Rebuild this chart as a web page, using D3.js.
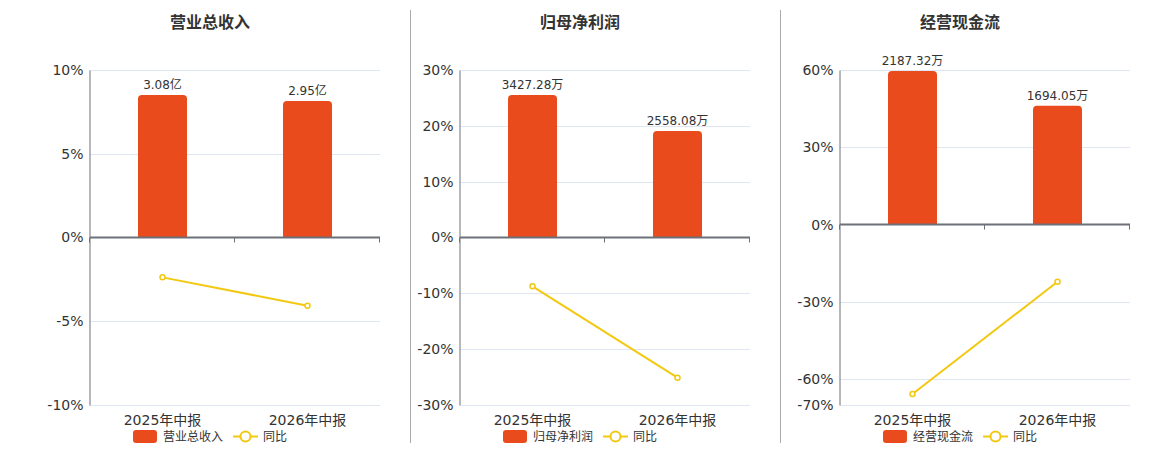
<!DOCTYPE html>
<html>
<head>
<meta charset="utf-8">
<script src="https://cdn.jsdelivr.net/npm/d3@7/dist/d3.min.js"></script>
<style>
html,body{margin:0;padding:0;background:#fff;}
svg{display:block;font-family:"DejaVu Sans","Noto Sans CJK SC",sans-serif;}
</style>
</head>
<body>
<svg id="chart" width="1160" height="450"></svg>
<script>
// ---- data ----
const categories = ["2025年中报", "2026年中报"];
const titles = ["营业总收入", "归母净利润", "经营现金流"];
const barNames = ["营业总收入", "归母净利润", "经营现金流"];
const lineName = "同比";
const units = ["亿", "万", "万"];
const barValues1 = [3.08, 2.95];
const barValues2 = [3427.28, 2558.08];
const barValues3 = [2187.32, 1694.05];
const yoy1 = [-2.38, -4.07];
const yoy2 = [-8.75, -25.1];
const yoy3 = [-65.7, -22.2];
const ticks1 = [-10, -5, 0, 5, 10];
const ticks2 = [-30, -20, -10, 0, 10, 20, 30];
const ticks3 = [-70, -60, -30, 0, 30, 60];
// hidden secondary (bar) axis maxima
const barAxisMax = [3.62, 4027, 2203];

const panels = [
  {title: titles[0], name: barNames[0], unit: units[0], bars: barValues1, yoy: yoy1, ticks: ticks1, barMax: barAxisMax[0]},
  {title: titles[1], name: barNames[1], unit: units[1], bars: barValues2, yoy: yoy2, ticks: ticks2, barMax: barAxisMax[1]},
  {title: titles[2], name: barNames[2], unit: units[2], bars: barValues3, yoy: yoy3, ticks: ticks3, barMax: barAxisMax[2]}
];

// ---- layout ----
const plotLeft = [90, 460, 840];
const plotWidth = 290;
const plotTop = 70, plotBottom = 405;
const centers = [210, 580, 960];
const separators = [410.5, 780.5];
const barColor = "#e94b1c";
const lineColor = "#f2c811";
const axisColor = "#6e7079";
const gridColor = "#e0e6f1";
const textColor = "#333";

const svg = d3.select("#chart");

separators.forEach(x => {
  svg.append("line").attr("x1", x).attr("x2", x).attr("y1", 10).attr("y2", 443)
    .attr("stroke", "#aaa").attr("stroke-width", 1);
});

panels.forEach((p, i) => {
  const g = svg.append("g");
  const x0 = plotLeft[i];
  const x = d3.scaleBand().domain(categories).range([x0, x0 + plotWidth]);
  const yMin = d3.min(p.ticks), yMax = d3.max(p.ticks);
  const y = d3.scaleLinear().domain([yMin, yMax]).range([plotBottom, plotTop]);
  const zeroY = y(0);
  const yBar = d3.scaleLinear().domain([0, p.barMax]).range([zeroY, y(yMax)]);

  // title
  g.append("text").attr("x", centers[i]).attr("y", 28).attr("text-anchor", "middle")
    .attr("font-size", 16).attr("font-weight", "bold").attr("fill", textColor).text(p.title);

  // grid
  g.selectAll(".grid").data(p.ticks.filter(t => t !== 0)).enter().append("line")
    .attr("x1", x0).attr("x2", x0 + plotWidth)
    .attr("y1", d => Math.round(y(d)) + 0.5).attr("y2", d => Math.round(y(d)) + 0.5)
    .attr("stroke", gridColor).attr("stroke-width", 1);

  // y axis labels
  const yAxis = d3.axisLeft(y).tickValues(p.ticks).tickSize(0).tickPadding(6).tickFormat(d => d + "%");
  const ya = g.append("g").attr("transform", `translate(${x0 - 0.5},0)`).call(yAxis);
  ya.select(".domain").attr("stroke", axisColor);
  ya.selectAll("text").attr("font-size", 14).attr("fill", textColor)
    .attr("font-family", '"DejaVu Sans",sans-serif');

  // bars
  const bw = 49;
  const r = 4;
  g.selectAll(".bar").data(p.bars).enter().append("path")
    .attr("fill", barColor)
    .attr("d", (d, j) => {
      const cx = x(categories[j]) + x.bandwidth() / 2;
      const l = cx - bw / 2, rr = cx + bw / 2;
      const top = yBar(d), bot = zeroY;
      return `M${l},${bot}L${l},${top + r}Q${l},${top} ${l + r},${top}L${rr - r},${top}Q${rr},${top} ${rr},${top + r}L${rr},${bot}Z`;
    });
  g.selectAll(".blabel").data(p.bars).enter().append("text")
    .attr("x", (d, j) => x(categories[j]) + x.bandwidth() / 2)
    .attr("y", d => yBar(d) - 6)
    .attr("text-anchor", "middle").attr("font-size", 12).attr("fill", textColor)
    .text(d => d.toFixed(2) + p.unit);

  // zero axis
  const xAxis = d3.axisBottom(x).tickSize(5).tickFormat("");
  const xa = g.append("g").attr("transform", `translate(0,${zeroY})`).call(xAxis);
  xa.select(".domain").attr("stroke", axisColor).attr("stroke-width", 2)
    .attr("d", `M${x0},0H${x0 + plotWidth}`);
  xa.selectAll(".tick").remove();
  const bounds = [x0, x0 + x.bandwidth(), x0 + plotWidth];
  xa.selectAll(".bt").data(bounds).enter().append("line")
    .attr("x1", d => d - 0.5).attr("x2", d => d - 0.5).attr("y1", 0).attr("y2", 5)
    .attr("stroke", axisColor).attr("stroke-width", 1);

  // x labels
  g.selectAll(".xl").data(categories).enter().append("text")
    .attr("x", d => x(d) + x.bandwidth() / 2).attr("y", 425)
    .attr("text-anchor", "middle").attr("font-size", 14).attr("fill", textColor).text(d => d);

  // line
  const line = d3.line().x((d, j) => x(categories[j]) + x.bandwidth() / 2).y(d => y(d));
  g.append("path").datum(p.yoy).attr("d", line).attr("fill", "none")
    .attr("stroke", lineColor).attr("stroke-width", 2);
  g.selectAll(".pt").data(p.yoy).enter().append("circle")
    .attr("cx", (d, j) => x(categories[j]) + x.bandwidth() / 2).attr("cy", d => y(d))
    .attr("r", 2.5).attr("fill", "#fff").attr("stroke", lineColor).attr("stroke-width", 1.5);

  // legend
  const lg = g.append("g");
  const lx = centers[i] - 77;
  lg.append("rect").attr("x", lx).attr("y", 430).attr("width", 24).attr("height", 13)
    .attr("rx", 3).attr("fill", barColor);
  lg.append("text").attr("x", lx + 30).attr("y", 441).attr("font-size", 12).attr("fill", textColor).text(p.name);
  const l2 = lx + 100;
  lg.append("line").attr("x1", l2).attr("x2", l2 + 25).attr("y1", 436.5).attr("y2", 436.5)
    .attr("stroke", lineColor).attr("stroke-width", 2);
  lg.append("circle").attr("cx", l2 + 12.5).attr("cy", 436.5).attr("r", 5)
    .attr("fill", "#fff").attr("stroke", lineColor).attr("stroke-width", 2);
  lg.append("text").attr("x", l2 + 30).attr("y", 441).attr("font-size", 12).attr("fill", textColor).text(lineName);
});
</script>
</body>
</html>
